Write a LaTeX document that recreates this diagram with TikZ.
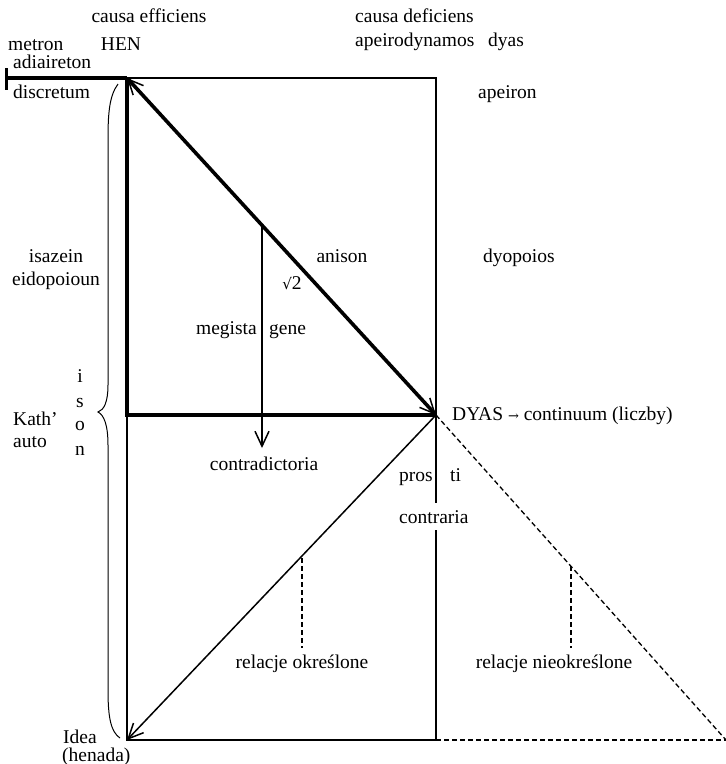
\documentclass[tikz,border=0pt]{standalone}
\usepackage{fontspec}
\setmainfont{Liberation Serif}
\newfontfamily\symfont{DejaVu Serif}
\usetikzlibrary{arrows.meta}
\begin{document}
\begin{tikzpicture}[x=1pt,y=-1pt,
  lbl/.style={inner sep=0pt,anchor=base,font=\fontsize{19.5}{21}\selectfont},
  lblw/.style={lbl,anchor=base west},
  thickln/.style={line width=3.6pt},
  thinln/.style={line width=1.5pt},
  dashln/.style={line width=1.3pt,dash pattern=on 5pt off 3pt},
  barb/.style={-{Straight Barb[length=15pt,width=14pt,line width=1.5pt]}},
  barbs/.style={{Straight Barb[length=15pt,width=14pt,line width=1.5pt]}-{Straight Barb[length=15pt,width=14pt,line width=1.5pt]}}
]
\useasboundingbox (0,0) rectangle (726,764);
% key points
\coordinate (tick1) at (6,68);
\coordinate (tick2) at (6,90);
\coordinate (tickm) at (6,78);
\coordinate (H) at (127,78);
\coordinate (TR) at (436,78);
\coordinate (D) at (436,415);
\coordinate (L) at (127,415);
\coordinate (I) at (127,740);
\coordinate (BR) at (436,740);
\coordinate (FR) at (726,740);
\coordinate (mg) at (262,225);
\coordinate (mgend) at (262,448);
\coordinate (r1) at (302,558);
\coordinate (r1e) at (302,648);
\coordinate (r2) at (571,566);
\coordinate (r2e) at (571,648);

% rectangle thin parts
\draw[thinln] (H) -- (TR) -- (BR) -- (I) -- (L);
% thick parts
\draw[thickln] (tickm) -- (H);
\draw[line width=3pt] (tick1) -- (tick2);
\draw[thickln] (H) -- (L) -- (D);
\draw[thickln,barbs] (H) -- (D);
% vertical arrow
\draw[thinln,barb] (mg) -- (mgend);
% thin diagonal to Idea
\draw[thinln,barb] (D) -- (I);
% dashed
\draw[dashln] (D) -- (FR);
\draw[dashln] (BR) -- (FR);
\draw[dashln] (r1) -- (r1e);
\draw[dashln] (r2) -- (r2e);
% brace
\draw[line width=1pt] (118,84) .. controls (109,96) and (108,115) .. (108,140)
  -- (108,385) .. controls (108,402) and (104,410) .. (98,412)
  .. controls (104,415) and (108,425) .. (108,445)
  -- (108,690) .. controls (108,718) and (111,732) .. (120,738);

% texts
\node[lbl] (ce) at (149,22) {causa efficiens};
\node[lbl] (hen) at (121,50) {HEN};
\node[lblw] (metron) at (8,50) {metron};
\node[lblw] (adia) at (13,68) {adiaireton};
\node[lblw] (disc) at (13,98) {discretum};
\node[lblw] (cd) at (355,22) {causa deficiens};
\node[lblw] (apd) at (355,46) {apeirodynamos};
\node[lblw] (dyas) at (488,46) {dyas};
\node[lblw] (apeiron) at (478,98) {apeiron};
\node[lbl] (isaz) at (56,262) {isazein};
\node[lbl] (eido) at (56,285) {eidopoioun};
\node[lbl] (anison) at (342,262) {anison};
\node[lbl] (sqrt) at (292,289) {{\symfont\fontsize{15}{16}\selectfont √}2};
\node[lbl,anchor=base east] (meg) at (257,334) {megista};
\node[lblw] (gene) at (269,334) {gene};
\node[lblw] (dyop) at (483,262) {dyopoios};
\node[lbl] (i1) at (80,382) {i};
\node[lbl] (i2) at (80,407) {s};
\node[lbl] (i3) at (80,430) {o};
\node[lbl] (i4) at (80,455) {n};
\node[lblw] (kath) at (13,425) {Kath’};
\node[lblw] (auto) at (13,447) {auto};
\node[lblw] (DYAS) at (452,420) {DYAS {\symfont\fontsize{13}{14}\selectfont →} continuum (liczby)};
\node[lbl] (contrad) at (264,470) {contradictoria};
\node[lblw] (pros) at (399,481) {pros};
\node[lblw] (ti) at (450,481) {ti};
\node[lblw,fill=white,inner xsep=1pt,inner ysep=7pt] (contra) at (398,523) {contraria};
\node[lbl] (rel1) at (302,668) {relacje określone};
\node[lbl] (rel2) at (554,668) {relacje nieokreślone};
\node[lblw] (idea) at (63,743) {Idea};
\node[lblw] (hen2) at (62,761) {(henada)};
\end{tikzpicture}
\end{document}
